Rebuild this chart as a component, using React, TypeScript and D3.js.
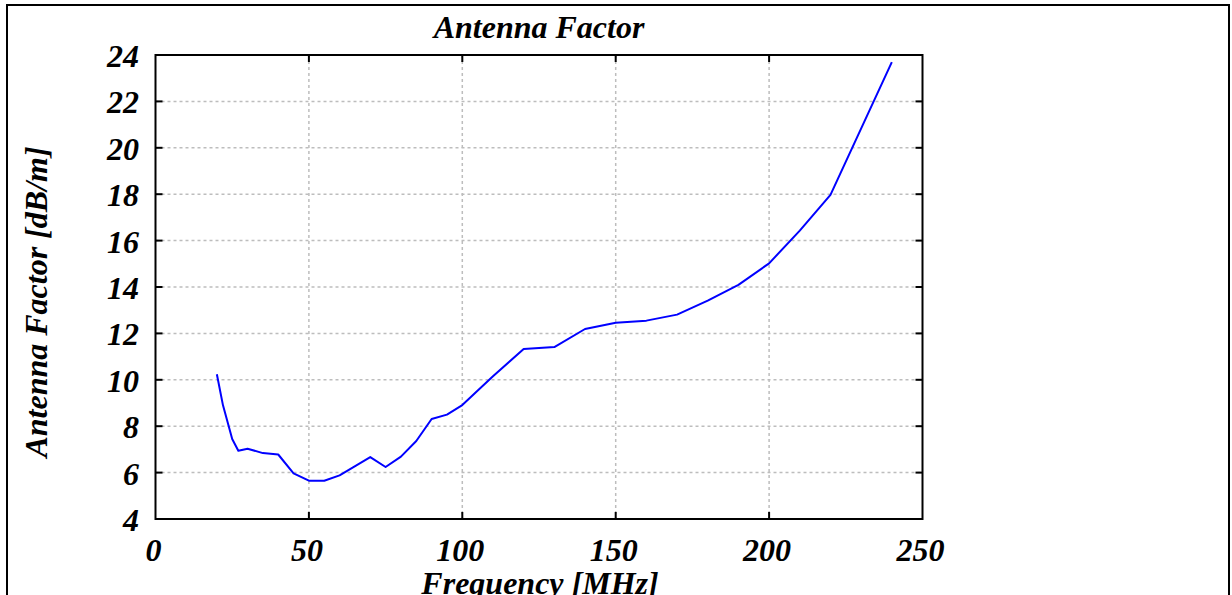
import React from "react";
import * as d3 from "d3";

const freqs = [20, 22, 25, 27, 30, 35, 40, 45, 50, 55, 60, 70, 75, 80, 85, 90, 95, 100, 110, 120, 130, 140, 150, 160, 170, 180, 190, 200, 210, 220, 240];
const factors = [10.24, 8.9, 7.45, 6.94, 7.03, 6.84, 6.78, 5.97, 5.65, 5.65, 5.88, 6.67, 6.24, 6.69, 7.36, 8.31, 8.5, 8.91, 10.15, 11.33, 11.41, 12.19, 12.46, 12.55, 12.81, 13.41, 14.09, 15.02, 16.43, 17.97, 23.69];
const xTicks = [0, 50, 100, 150, 200, 250];
const yTicks = [4, 6, 8, 10, 12, 14, 16, 18, 20, 22, 24];
const title = "Antenna Factor";
const xLabel = "Frequency [MHz]";
const yLabel = "Antenna Factor [dB/m]";

export default function App() {
  const W = 1232, H = 595;
  const left = 155.5, right = 922.5, top = 55, bottom = 519;
  const x = d3.scaleLinear().domain([0, 250]).range([left, right]);
  const y = d3.scaleLinear().domain([4, 24]).range([bottom, top]);
  const pts: [number, number][] = freqs.map((f, i) => [f, factors[i]]);
  const line = d3.line<[number, number]>().x(d => x(d[0])).y(d => y(d[1]))(pts) || "";
  const font = "'Liberation Serif', 'Times New Roman', serif";
  const tickLen = 7;
  return (
    <svg width={W} height={H} style={{ position: "absolute", left: 0, top: 0, background: "#fff" }}
      fontFamily={font} fontWeight="bold" fontStyle="italic">
      <rect x={0} y={0} width={W} height={H} fill="#fff" />
      <rect x={7} y={5} width={1222} height={620} fill="none" stroke="#000" strokeWidth={2} />
      {/* grid */}
      {xTicks.slice(1, -1).map(t => (
        <line key={"gx" + t} x1={x(t)} x2={x(t)} y1={top} y2={bottom} stroke="#bdbdbd" strokeWidth={1.5} strokeDasharray="3,3" />
      ))}
      {yTicks.slice(1, -1).map(t => (
        <line key={"gy" + t} x1={left} x2={right} y1={y(t)} y2={y(t)} stroke="#bdbdbd" strokeWidth={1.5} strokeDasharray="3,3" />
      ))}
      {/* ticks */}
      {xTicks.slice(1, -1).map(t => (
        <g key={"tx" + t}>
          <line x1={x(t)} x2={x(t)} y1={bottom} y2={bottom - tickLen} stroke="#000" strokeWidth={2} />
          <line x1={x(t)} x2={x(t)} y1={top} y2={top + tickLen} stroke="#000" strokeWidth={2} />
        </g>
      ))}
      {yTicks.slice(1, -1).map(t => (
        <g key={"ty" + t}>
          <line x1={left} x2={left + tickLen} y1={y(t)} y2={y(t)} stroke="#000" strokeWidth={2} />
          <line x1={right} x2={right - tickLen} y1={y(t)} y2={y(t)} stroke="#000" strokeWidth={2} />
        </g>
      ))}
      <path d={line} fill="none" stroke="#0000ff" strokeWidth={2} strokeLinejoin="round" />
      <rect x={left} y={top} width={right - left} height={bottom - top} fill="none" stroke="#000" strokeWidth={2} />
      {/* tick labels */}
      {yTicks.map(t => (
        <text key={"ly" + t} x={139} y={y(t) + 12} textAnchor="end" fontSize={32}>{t}</text>
      ))}
      {xTicks.map(t => (
        <text key={"lx" + t} x={x(t) - 2} y={561} textAnchor="middle" fontSize={32}>{t}</text>
      ))}
      <text x={539} y={38} textAnchor="middle" fontSize={32}>{title}</text>
      <text x={540} y={594} textAnchor="middle" fontSize={32}>{xLabel}</text>
      <text transform={`translate(47,302) rotate(-90)`} textAnchor="middle" fontSize={32}>{yLabel}</text>
    </svg>
  );
}
